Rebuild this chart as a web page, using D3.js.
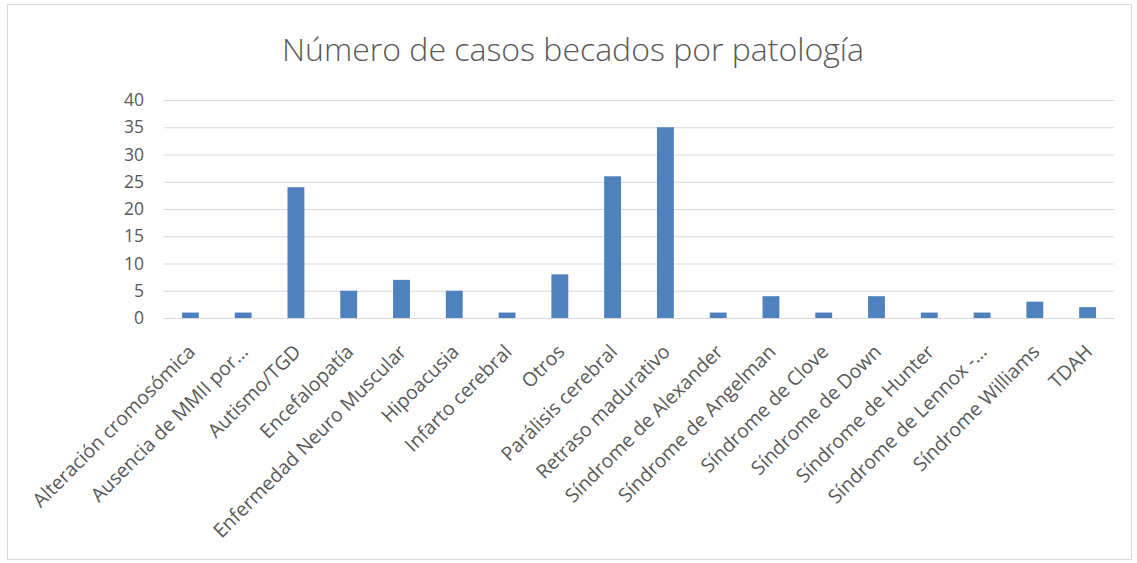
<!DOCTYPE html>
<html>
<head>
<meta charset="utf-8">
<script src="https://cdn.jsdelivr.net/npm/d3@7"></script>
<style>
  body { margin: 0; background: #fff; }
  svg { display: block; font-family: "Open Sans", sans-serif; }
</style>
</head>
<body>
<svg></svg>
<script>
var categories = ['Alteración cromosómica', 'Ausencia de MMII por…', 'Autismo/TGD', 'Encefalopatía',
  'Enfermedad Neuro Muscular', 'Hipoacusia', 'Infarto cerebral', 'Otros', 'Parálisis cerebral',
  'Retraso madurativo', 'Síndrome de Alexander', 'Síndrome de Angelman', 'Síndrome de Clove',
  'Síndrome de Down', 'Síndrome de Hunter', 'Síndrome de Lennox -…', 'Síndrome Williams', 'TDAH'];
var casos = [1, 1, 24, 5, 7, 5, 1, 8, 26, 35, 1, 4, 1, 4, 1, 1, 3, 2];
var yTicks = [0, 5, 10, 15, 20, 25, 30, 35, 40];
var title = 'Número de casos becados por patología';

var width = 1137, height = 563;
var margin = {top: 100, right: 23, bottom: 245, left: 164};

var svg = d3.select('svg').attr('width', width).attr('height', height);

// chart frame
svg.append('rect')
  .attr('x', 7.5).attr('y', 4.5)
  .attr('width', 1124).attr('height', 555)
  .attr('fill', '#fff')
  .attr('stroke', '#d9d9d9');

svg.append('text')
  .attr('x', 573).attr('y', 61)
  .attr('text-anchor', 'middle')
  .attr('fill', '#595959')
  .style('font-size', '32px')
  .style('font-weight', 300)
  .text(title);

var x = d3.scaleBand()
  .domain(categories)
  .range([margin.left, width - margin.right])
  .paddingInner(0.68)
  .paddingOuter(0.34);

var y = d3.scaleLinear()
  .domain([0, 40])
  .range([height - margin.bottom, margin.top]);

// gridlines
svg.append('g')
  .attr('transform', 'translate(' + margin.left + ',0)')
  .call(d3.axisLeft(y).tickValues(yTicks).tickSize(-(width - margin.left - margin.right)).tickFormat(''))
  .call(g => g.select('.domain').remove())
  .call(g => g.selectAll('line').attr('stroke', '#d9d9d9'));

// y labels
svg.append('g')
  .attr('transform', 'translate(' + (margin.left - 17) + ',0)')
  .call(d3.axisLeft(y).tickValues(yTicks).tickSize(0))
  .call(g => g.select('.domain').remove())
  .call(g => g.selectAll('text')
    .attr('fill', '#595959')
    .style('font-size', '17.5px')
    .style('font-family', '"Open Sans", sans-serif'));

svg.append('g')
  .selectAll('rect')
  .data(casos)
  .enter().append('rect')
  .attr('x', (d, i) => x(categories[i]))
  .attr('y', d => y(d))
  .attr('width', x.bandwidth())
  .attr('height', d => y(0) - y(d))
  .attr('fill', '#4f81bd');

// x axis
svg.append('g')
  .attr('transform', 'translate(0,' + y(0) + ')')
  .call(d3.axisBottom(x).tickSize(0))
  .call(g => g.select('.domain').attr('stroke', '#d9d9d9'))
  .call(g => g.selectAll('text')
    .attr('fill', '#595959')
    .style('font-size', '19.5px')
    .style('font-family', '"Open Sans", sans-serif')
    .attr('text-anchor', 'end')
    .attr('y', 0).attr('dy', 0)
    .attr('transform', 'translate(6,35) rotate(-45)'));
</script>
</body>
</html>
